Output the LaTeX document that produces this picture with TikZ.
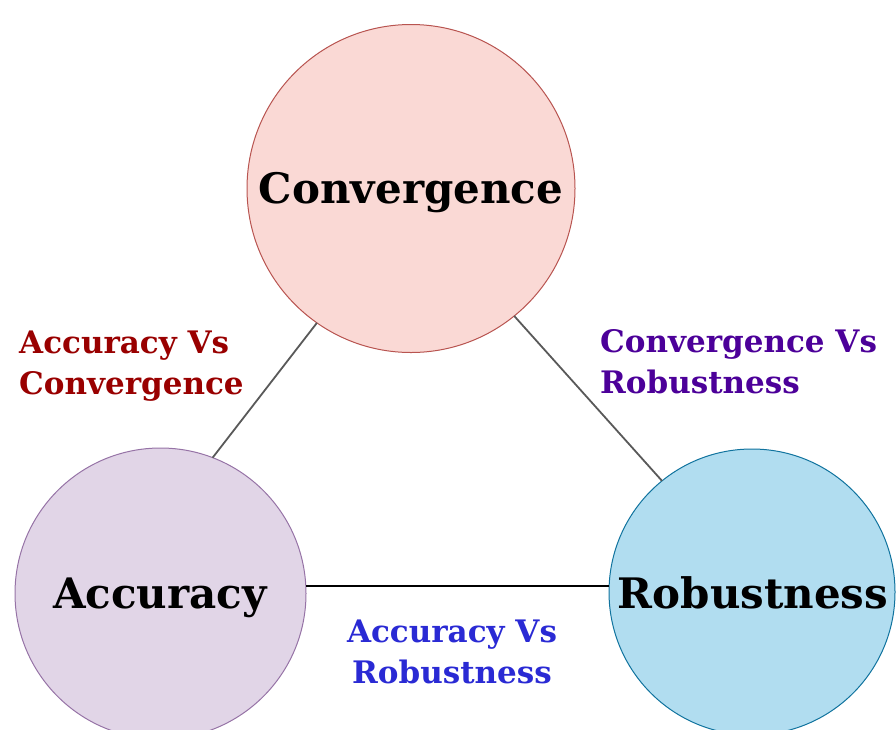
\documentclass[tikz,border=0pt]{standalone}
\usepackage{fontspec}
\setmainfont{DejaVu Serif}
\usetikzlibrary{positioning}

\definecolor{convfill}{HTML}{FAD9D5}
\definecolor{convline}{HTML}{B85450}
\definecolor{accfill}{HTML}{E1D5E7}
\definecolor{accline}{HTML}{9673A6}
\definecolor{robfill}{HTML}{B1DDF0}
\definecolor{robline}{HTML}{10739E}
\definecolor{redlbl}{HTML}{990000}
\definecolor{purplelbl}{HTML}{4C0099}
\definecolor{bluelbl}{HTML}{2A2AD4}

\tikzset{
  topic/.style={circle, draw, line width=1pt, inner sep=0pt, outer sep=0pt,
    font=\bfseries\fontsize{42}{50}\selectfont},
  pairlbl/.style={inner sep=0pt, font=\bfseries\fontsize{31}{41}\selectfont},
  link/.style={draw=black!65, line width=1.8pt},
}

\begin{document}
\begin{tikzpicture}[x=1pt,y=-1pt]
\useasboundingbox (0,0) rectangle (896,729);
\clip (0,0) rectangle (896,729);
% the three circles
\node[topic, fill=convfill, draw=convline, minimum size=328pt] (conv) at (411,188.5) {};
\node[topic, fill=accfill, draw=accline, minimum size=291pt] (acc) at (160.5,593.5) {};
\node[topic, fill=robfill, draw=robline, minimum size=286pt] (rob) at (752,592) {};
% links
\draw[link] (acc.69.7) -- (conv.235.4);
\draw[link] (conv.309.6) -- (rob.129.9);
\draw[link, draw=black, line width=1.4pt] (acc.3.7) -- (acc.3.7 -| rob.west);
% names
\node[topic, draw=none, anchor=base] (convTxt) at (411,203) {Convergence};
\node[topic, draw=none, anchor=base] (accTxt) at (160,608) {Accuracy};
\node[topic, draw=none, anchor=base] (robTxt) at (753,608) {Robustness};
% pair labels
\node[pairlbl, text=redlbl, align=left, anchor=base west] (accConv) at (19,394) {Accuracy Vs\\Convergence};
\node[pairlbl, text=purplelbl, align=left, anchor=base west] (convRob) at (600,393) {Convergence Vs\\Robustness};
\node[pairlbl, text=bluelbl, align=center, anchor=base] (accRob) at (452,683) {Accuracy Vs\\Robustness};
\end{tikzpicture}
\end{document}
